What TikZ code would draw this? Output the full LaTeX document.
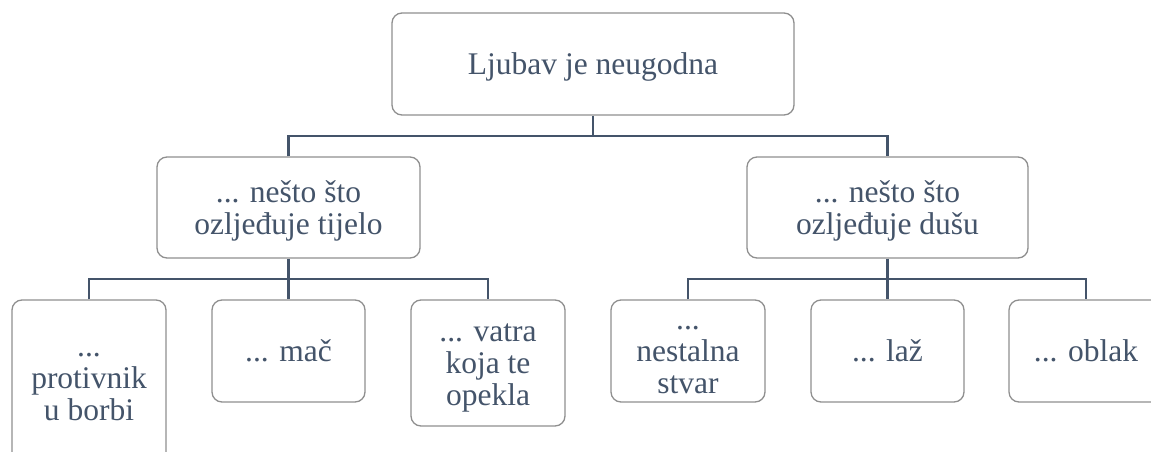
\documentclass[tikz,border=0pt]{standalone}
\usepackage{fontspec}
\setmainfont{Liberation Serif}
\definecolor{txt}{HTML}{44546A}
\definecolor{bord}{HTML}{8F8F8F}
\newcommand\lsx{\vrule height 0.891em depth 0.216em width 0pt\relax}
\newcommand\lsdeep{\vrule height 0.891em depth \dimexpr0.216em+9pt\relax width 0pt\relax}
\newcommand\boxfont{\fontsize{31.5}{32}\selectfont\lineskiplimit=-100pt\relax}
\begin{document}
\begin{tikzpicture}[x=1pt,y=-1pt,
  box/.style={draw=bord,line width=1.3pt,rounded corners=10pt,fill=white,
    text=txt,align=center,inner sep=0pt,font=\boxfont},
  conn/.style={draw=txt,line width=2.6pt}]
\clip (0,0) rectangle (1151,452);
\fill[white] (0,0) rectangle (1151,452);
\coordinate (j0) at (593,136);
\coordinate (j1) at (288.5,279);
\coordinate (j2) at (887.5,279);
\node[box,minimum width=402pt,minimum height=102pt] (top) at (593,64) {\lsx Ljubav je neugodna};
\node[box,minimum width=263pt,minimum height=101pt] (l) at (288.5,207.5) {\lsx... nešto što\\\lsx ozljeđuje tijelo};
\node[box,minimum width=281pt,minimum height=101pt] (r) at (887.5,207.5) {\lsx... nešto što\\\lsx ozljeđuje dušu};
\node[box,minimum width=154pt,minimum height=165pt] (l1) at (89,382.5) {\lsx...\\\lsx protivnik\\\lsdeep u borbi};
\node[box,minimum width=153pt,minimum height=102pt] (l2) at (288.5,351) {\lsx... mač};
\node[box,minimum width=154pt,minimum height=126pt] (l3) at (488,363) {\lsx... vatra\\\lsx koja te\\\lsx opekla};
\node[box,minimum width=154pt,minimum height=102pt] (r1) at (688,351) {\lsx...\\\lsx nestalna\\\lsx stvar};
\node[box,minimum width=153pt,minimum height=102pt] (r2) at (887.5,351) {\lsx... laž};
\node[box,minimum width=154pt,minimum height=102pt] (r3) at (1086,351) {\lsx... oblak};
\draw[conn] (top.south) -- (j0);
\draw[conn] (l.north) |- (j0) -| (r.north);
\draw[conn] (l.south) -- (j1);
\draw[conn] (l1.north) |- (j1) -| (l3.north);
\draw[conn] (j1) -- (l2.north);
\draw[conn] (r.south) -- (j2);
\draw[conn] (r1.north) |- (j2) -| (r3.north);
\draw[conn] (j2) -- (r2.north);
\end{tikzpicture}
\end{document}
